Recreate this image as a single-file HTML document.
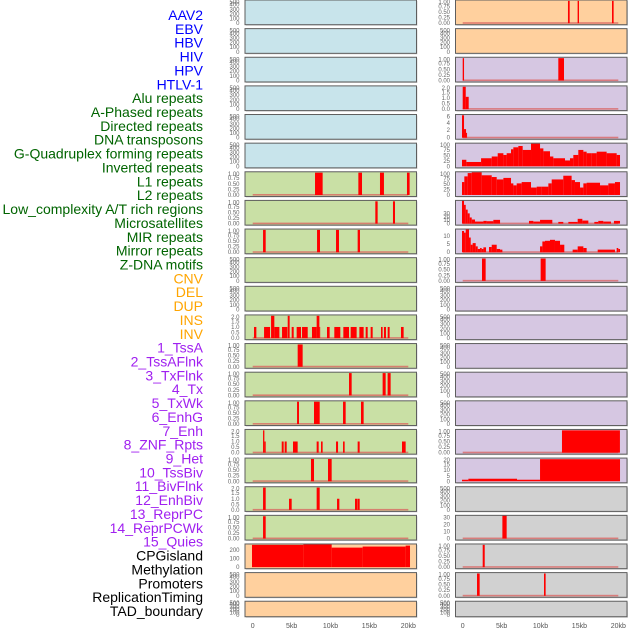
<!DOCTYPE html>
<html><head><meta charset="utf-8">
<style>
html,body{margin:0;padding:0;background:#fff;}
svg{display:block;font-family:"Liberation Sans",sans-serif;}
</style></head>
<body>
<svg id="chart" width="630" height="630" viewBox="0 0 630 630" xmlns="http://www.w3.org/2000/svg"></svg>
<script>
// ---- Track labels ----
const trackLabels = ["AAV2","EBV","HBV","HIV","HPV","HTLV-1","Alu repeats","A-Phased repeats","Directed repeats","DNA transposons","G-Quadruplex forming repeats","Inverted repeats","L1 repeats","L2 repeats","Low_complexity A/T rich regions","Microsatellites","MIR repeats","Mirror repeats","Z-DNA motifs","CNV","DEL","DUP","INS","INV","1_TssA","2_TssAFlnk","3_TxFlnk","4_Tx","5_TxWk","6_EnhG","7_Enh","8_ZNF_Rpts","9_Het","10_TssBiv","11_BivFlnk","12_EnhBiv","13_ReprPC","14_ReprPCWk","15_Quies","CPGisland","Methylation","Promoters","ReplicationTiming","TAD_boundary"];
const labelGroups = [6,13,5,15,5];
const groupColors = ["#0000ff","#006400","#ffa500","#a020f0","#000000"];

// ---- X axis ----
const xTickKb = [0,5,10,15,20];
const xTickLabels = ["0","5kb","10kb","15kb","20kb"];

// ---- Tick label sets ----
const ticksEmpty = ["500","400","300","200","100","0"];
const ticksUnit = ["1.00","0.75","0.50","0.25","0.00"];
const ticksTwo = ["2.0","1.5","1.0","0.5","0.0"];
const ticksSix = ["6","4","2","0"];
const ticksHundred = ["100","75","50","25","0"];
const ticksThirty = ["30","20","10","0"];
const ticksTen = ["10","5","0"];
const ticksTwenty = ["20","15","10","5","0"];
const ticksCpg = ["200","100","0"];

// ---- Series data: [startKb, endKb, value] ----
const barsAluL = [[8.01,8.99,1],[13.58,14.05,1],[16.36,16.87,1],[19.83,20.17,1]];
const barsAPhL = [[15.76,16.06,1],[18.03,18.29,1]];
const barsDirL = [[1.33,1.67,1],[8.27,8.65,1],[10.71,11.09,1],[13.49,13.79,1]];
const barsRow11L = [[0.17,0.47,1],[1.46,2.23,1],[2.36,2.78,2],[2.78,3.43,1],[3.77,4.45,1],[4.50,4.75,2],[5.01,5.27,1],[5.65,6.21,1],[6.34,7.07,1],[7.62,7.88,1],[7.88,8.22,1],[8.22,8.57,2],[8.57,8.65,1],[9.55,9.89,1],[10.49,11.26,1],[11.65,12.38,1],[12.59,13.36,1],[13.71,14.26,1],[14.52,14.78,1],[15.16,15.42,1],[16.49,16.70,1],[16.87,17.13,1],[17.35,17.60,1],[19.06,19.40,1]];
const barsRow12L = [[5.78,6.42,1]];
const barsRow13L = [[12.38,12.72,1],[16.70,17.09,1],[17.34,17.73,1]];
const barsRow14L = [[5.70,5.95,1],[7.88,8.61,1],[11.61,11.95,1],[13.92,14.26,1]];
const barsRow15L = [[1.33,1.50,2],[1.50,1.67,1],[3.73,3.98,1],[4.11,4.37,1],[5.18,5.78,1],[8.22,8.48,1],[8.78,8.99,1],[10.71,10.97,1],[11.61,11.82,1],[13.49,13.75,1],[19.19,19.66,1]];
const barsRow16L = [[7.49,7.88,1],[9.68,10.15,1]];
const barsRow17L = [[1.33,1.67,2],[4.67,5.01,1],[8.22,8.61,2],[10.84,11.14,1],[13.15,13.45,1],[13.49,13.75,1]];
const barsRow18L = [[1.33,1.67,1]];
const barsCpgL = [[-0.09,6.51,257],[6.51,10.15,264],[10.15,14.13,226],[14.13,19.66,238],[19.66,20.22,249]];

const barsRow0R = [[13.53,13.75,1],[14.77,14.95,1],[19.19,19.40,1]];
const barsRow2R = [[0,0.17,1],[12.29,13.02,1]];
const barsRow3R = [[0,0.39,2],[0.39,0.77,1.1]];
const barsRow4R = [[-0.09,0.17,6],[0.17,0.43,2.3],[0.43,0.56,1.3]];
const gquadEdges = [-0.09,0.47,2.36,3.73,4.50,5.23,5.65,6.21,6.51,7.15,7.71,8.78,9.94,10.37,11.22,11.65,13.15,13.79,14.22,14.86,15.51,15.93,16.58,17.22,18.50,19.79,20.22];
const gquadValues = [30,20,37,45,60,52,60,78,87,93,75,104,82,69,45,37,27,37,52,75,67,60,60,67,60,52];
const l1Edges = [-0.09,0.21,0.64,1.16,2.44,3.73,4.37,5.23,6.21,6.51,6.94,7.58,8.78,9.51,10.15,11.01,11.44,12.93,14.00,14.43,15.08,15.51,15.93,17.65,18.72,19.57,20.22];
const l1Values = [59,85,100,104,90,82,71,78,53,44,53,59,34,38,38,53,71,88,68,59,34,53,56,44,53,59];
const barsRow7R = [[-0.09,0.17,68],[0.17,0.39,55],[0.39,0.64,41],[0.64,0.90,30],[0.90,1.16,18],[1.16,1.58,12],[1.58,2.66,6],[2.66,3.08,8],[3.08,3.94,7],[3.94,4.80,11],[8.52,9.08,8],[9.08,9.94,6],[9.94,11.52,11],[12.29,12.93,5],[13.58,14.78,5],[14.78,15.38,14],[15.38,16.15,9],[16.92,17.43,5],[17.43,18.07,8],[18.07,19.06,6],[19.44,20.22,8]];
const barsRow8R = [[-0.09,0.17,13],[0.17,0.39,12],[0.39,0.81,14],[0.81,1.03,9],[1.03,1.28,4.6],[1.28,1.67,5.6],[1.67,1.93,3.6],[1.93,2.23,2],[2.23,2.44,2.6],[2.44,2.66,2],[2.66,3.00,3],[3.38,3.73,3.2],[3.73,4.37,4.6],[4.37,4.80,2],[4.80,5.10,1.6],[9.94,10.24,3.6],[10.24,10.58,6.6],[10.58,11.22,7],[11.22,11.86,7.6],[11.86,12.51,7],[12.51,13.06,4.6],[14.13,14.78,1.6],[14.78,15.51,3.6],[15.51,15.93,2.6],[17.35,19.57,1.6],[19.79,20.0,2.6],[20.0,20.22,2]];
const barsRow9R = [[2.48,2.95,1],[10.02,10.66,1]];
const barsRow15R = [[12.76,20.21,1]];
const barsRow16R = [[-0.09,0.73,1.4],[0.73,6.98,2.3],[6.98,9.94,1.4],[9.94,20.22,20]];
const barsRow18R = [[5.10,5.65,33]];
const barsRow19R = [[2.57,2.83,1]];
const barsRow20R = [[1.84,2.18,1],[10.45,10.66,1]];

function profile(edges, values){ const out=[]; for(let i=0;i<values.length;i++) out.push([edges[i],edges[i+1],values[i]]); return out; }

const C_BLUE="#c8e4eb", C_GREEN="#c9e0a5", C_ORANGE="#ffd09e", C_PURPLE="#d6c7e2", C_GRAY="#d1d1d1";
// panel configs: [column,row,color,ticks,max,bars,baseline]
const panels = [];
for(let r=0;r<6;r++) panels.push([0,r,C_BLUE,ticksEmpty,500,[],false]);
panels.push([0,6,C_GREEN,ticksUnit,1.04,barsAluL,true]);
panels.push([0,7,C_GREEN,ticksUnit,1.04,barsAPhL,true]);
panels.push([0,8,C_GREEN,ticksUnit,1.04,barsDirL,true]);
panels.push([0,9,C_GREEN,ticksEmpty,500,[],false]);
panels.push([0,10,C_GREEN,ticksEmpty,500,[],false]);
panels.push([0,11,C_GREEN,ticksTwo,2.08,barsRow11L,true]);
panels.push([0,12,C_GREEN,ticksUnit,1.04,barsRow12L,true]);
panels.push([0,13,C_GREEN,ticksUnit,1.04,barsRow13L,true]);
panels.push([0,14,C_GREEN,ticksUnit,1.04,barsRow14L,true]);
panels.push([0,15,C_GREEN,ticksTwo,2.08,barsRow15L,true]);
panels.push([0,16,C_GREEN,ticksUnit,1.04,barsRow16L,true]);
panels.push([0,17,C_GREEN,ticksTwo,2.08,barsRow17L,true]);
panels.push([0,18,C_GREEN,ticksUnit,1.04,barsRow18L,true]);
panels.push([0,19,C_ORANGE,ticksCpg,268,barsCpgL,false]);
panels.push([0,20,C_ORANGE,ticksEmpty,500,[],false]);
panels.push([0,21,C_ORANGE,ticksEmpty,500,[],false]);
panels.push([1,0,C_ORANGE,ticksUnit,1.04,barsRow0R,true]);
panels.push([1,1,C_ORANGE,ticksEmpty,500,[],false]);
panels.push([1,2,C_PURPLE,ticksUnit,1.04,barsRow2R,true]);
panels.push([1,3,C_PURPLE,ticksTwo,2.08,barsRow3R,true]);
panels.push([1,4,C_PURPLE,ticksSix,6.2,barsRow4R,true]);
panels.push([1,5,C_PURPLE,ticksHundred,106,profile(gquadEdges,gquadValues),false]);
panels.push([1,6,C_PURPLE,ticksHundred,106,profile(l1Edges,l1Values),false]);
panels.push([1,7,C_PURPLE,ticksThirty,68,barsRow7R,true]);
panels.push([1,8,C_PURPLE,ticksTen,14.2,barsRow8R,true]);
panels.push([1,9,C_PURPLE,ticksUnit,1.04,barsRow9R,true]);
for(let r=10;r<15;r++) panels.push([1,r,C_PURPLE,ticksEmpty,500,[],false]);
panels.push([1,15,C_PURPLE,ticksUnit,1.04,barsRow15R,true]);
panels.push([1,16,C_PURPLE,ticksTwenty,21,barsRow16R,false]);
panels.push([1,17,C_GRAY,ticksEmpty,500,[],false]);
panels.push([1,18,C_GRAY,ticksThirty,33,barsRow18R,true]);
panels.push([1,19,C_GRAY,ticksUnit,1.04,barsRow19R,true]);
panels.push([1,20,C_GRAY,ticksUnit,1.04,barsRow20R,true]);
panels.push([1,21,C_GRAY,ticksEmpty,500,[],false]);

const NS="http://www.w3.org/2000/svg";
const svg=document.getElementById('chart');
function mk(tag,attrs,parent){const e=document.createElementNS(NS,tag);for(const k in attrs)e.setAttribute(k,attrs[k]);(parent||svg).appendChild(e);return e;}

const colFrameX=[245,455.5], colFrameW=171.5;
const colZeroX=[252.7,462.7], pxPerKb=7.78;
function xScale(col,kb){return colZeroX[col]+kb*pxPerKb;}
function rowTop(r){return r*28.63;}
function rowH(r){return r===21?15.5:24.7;}

// labels
let li=0;
labelGroups.forEach((n,g)=>{for(let k=0;k<n;k++){
  const t=mk('text',{x:203,y:15+li*13.86+5,'text-anchor':'end','font-size':14,fill:groupColors[g]});
  t.textContent=trackLabels[li];
  
  
  li++;}});

panels.forEach(p=>{
  const [col,row,color,ticks,max,bars,baseline]=p;
  const g=mk('g',{});
  
  
  const top=rowTop(row), h=rowH(row), bottom=top+h;
  const y0=bottom-1.5;
  const yS=v=>y0-v/max*(h-1.5);
  mk('rect',{x:colFrameX[col]+1,y:top+1,width:colFrameW,height:h,fill:'#aaa',opacity:0.5},g);
  const bg=mk('rect',{x:colFrameX[col],y:top,width:colFrameW,height:h,fill:color},g);
  
  
  if(baseline){
    const bl=mk('rect',{x:xScale(col,0),y:y0-1,width:20*pxPerKb,height:1.6,fill:'#d9605e',opacity:0.75},g);
    
    
  }
  bars.forEach(b=>{
    const x1=xScale(col,b[0]), x2=xScale(col,b[1]);
    const yt=Math.max(top,yS(b[2]));
    const r=mk('rect',{x:x1,y:yt,width:Math.max(0.8,x2-x1),height:Math.max(0,y0-yt),fill:'#ff0000'},g);
    
    
  });
  mk('rect',{x:colFrameX[col],y:top,width:colFrameW,height:h,fill:'none',stroke:'#5e5e5e','stroke-width':1},g);
  // y ticks
  const tx=col===0?239.5:450;
  ticks.forEach(lbl=>{
    const v=parseFloat(lbl);
    let y=yS(v); if(y<top+2)y=top+2;
    const t=mk('text',{x:tx,y:y+2,'text-anchor':'end','font-size':6,fill:'#666'},g);
    t.textContent=lbl;
    
    
  });
});

// x axes
[0,1].forEach(col=>{
  xTickKb.forEach((kb,i)=>{
    const t=mk('text',{x:xScale(col,kb),y:628,'text-anchor':'middle','font-size':7,fill:'#555'});
    t.textContent=xTickLabels[i];
    
    
  });
});
</script>
</body></html>
